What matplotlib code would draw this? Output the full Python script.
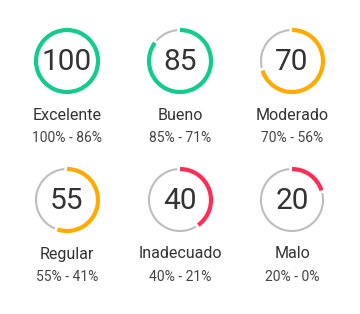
import matplotlib
matplotlib.use("Agg")
import matplotlib.pyplot as plt
from matplotlib.patches import Arc

# gauge data
scores = [100, 85, 70, 55, 40, 20]
labels = ["Excelente", "Bueno", "Moderado", "Regular", "Inadecuado", "Malo"]
ranges = ["100% - 86%", "85% - 71%", "70% - 56%", "55% - 41%", "40% - 21%", "20% - 0%"]
colors = ["#12cc8c", "#12cc8c", "#ffaa00", "#ffaa00", "#ff2d55", "#ff2d55"]

W, H = 360, 314
col_x = [67, 180, 292]
row_y = [61, 200]
R = 31
GAP = 5  # degrees of empty space around the grey track

plt.rcParams['font.family'] = ['Roboto', 'DejaVu Sans']

fig = plt.figure(figsize=(W / 100, H / 100), dpi=100)
ax = fig.add_axes([0, 0, 1, 1])
ax.set_xlim(0, W)
ax.set_ylim(H, 0)
ax.axis('off')

for i, score in enumerate(scores):
    cx = col_x[i % 3]
    cy = row_y[i // 3]
    frac = score / 100
    # y axis is inverted, so angles run clockwise from the x axis
    start = -90
    end = -90 + 360 * frac
    if frac < 1:
        ax.add_patch(Arc((cx, cy), 2 * R, 2 * R, theta1=end + GAP, theta2=270 - GAP,
                         color='#bdbdbd', lw=1.5))
    ax.add_patch(Arc((cx, cy), 2 * R, 2 * R, theta1=start, theta2=end,
                     color=colors[i], lw=3))
    ax.text(cx, cy + 1, str(score), ha='center', va='center', fontsize=21.5, color='#333333')
    ax.text(cx, cy + 54, labels[i], ha='center', va='center', fontsize=11.5, color='#333333')
    ax.text(cx, cy + 77, ranges[i], ha='center', va='center', fontsize=10, color='#444444')

fig.savefig("out.png", dpi=100, facecolor='white')
